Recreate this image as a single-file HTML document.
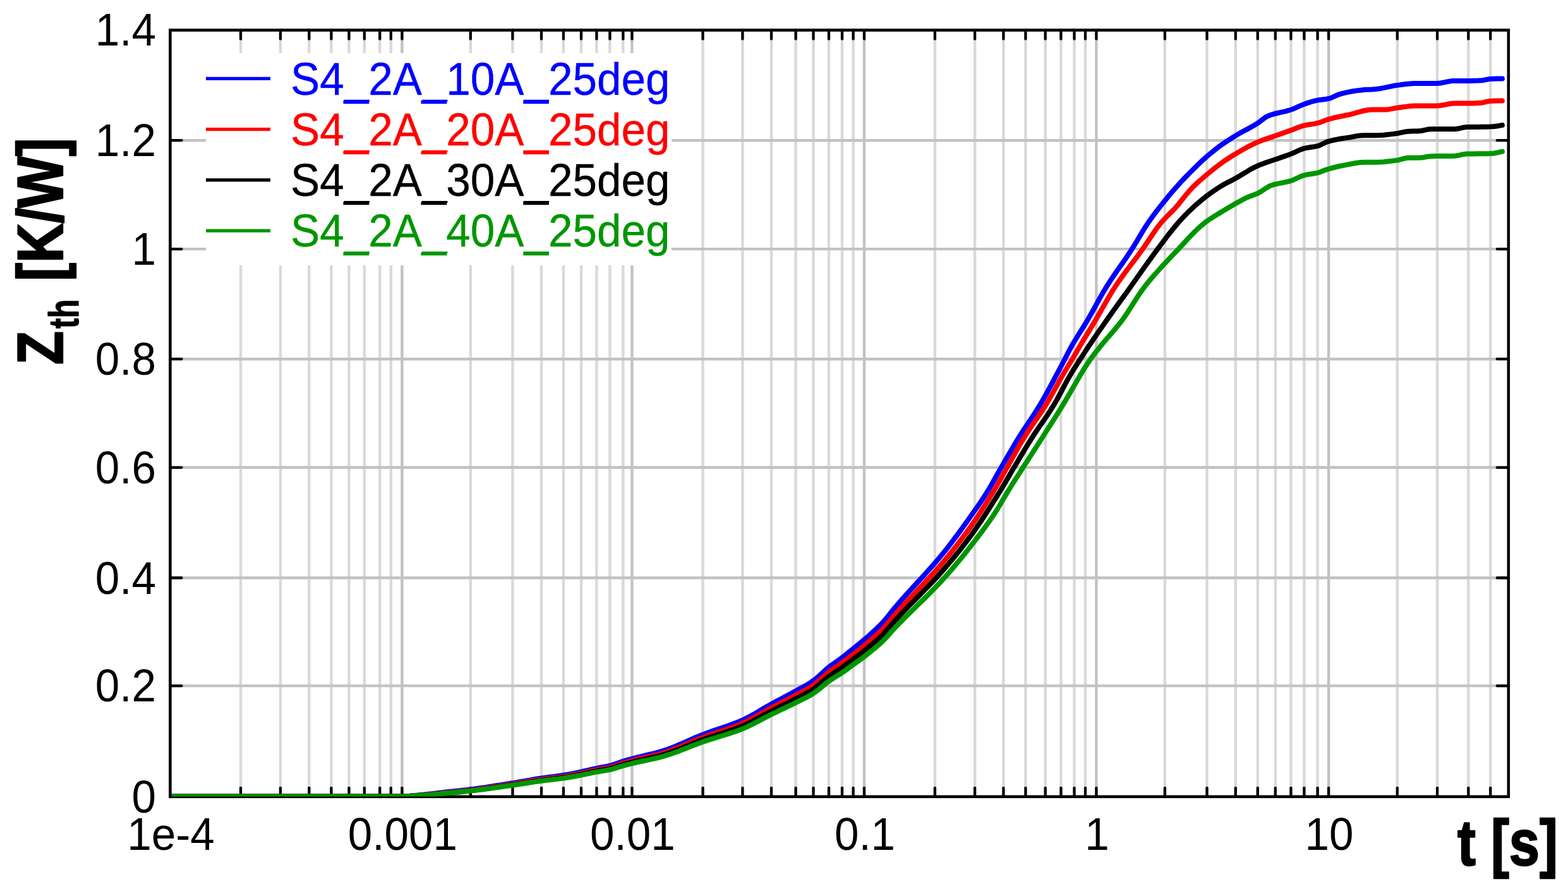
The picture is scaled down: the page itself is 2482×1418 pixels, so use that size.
<!DOCTYPE html><html><head><meta charset="utf-8"><title>Zth chart</title><style>html,body{margin:0;padding:0;background:#fff}svg{display:block}</style></head><body><svg width="2482" height="1418" viewBox="0 0 2482 1418">
<rect width="2482" height="1418" fill="#fff"/>
<g><line x1="381.0" x2="381.0" y1="47.7" y2="1260.8" stroke="#d9d9d9" stroke-width="4.4"/><line x1="443.9" x2="443.9" y1="47.7" y2="1260.8" stroke="#d9d9d9" stroke-width="4.4"/><line x1="489.3" x2="489.3" y1="47.7" y2="1260.8" stroke="#d9d9d9" stroke-width="4.4"/><line x1="524.4" x2="524.4" y1="47.7" y2="1260.8" stroke="#d9d9d9" stroke-width="4.4"/><line x1="552.4" x2="552.4" y1="47.7" y2="1260.8" stroke="#d9d9d9" stroke-width="4.4"/><line x1="576.8" x2="576.8" y1="47.7" y2="1260.8" stroke="#d9d9d9" stroke-width="4.4"/><line x1="601.2" x2="601.2" y1="47.7" y2="1260.8" stroke="#d9d9d9" stroke-width="4.4"/><line x1="618.8" x2="618.8" y1="47.7" y2="1260.8" stroke="#d9d9d9" stroke-width="4.4"/><line x1="744.8" x2="744.8" y1="47.7" y2="1260.8" stroke="#d9d9d9" stroke-width="4.4"/><line x1="811.4" x2="811.4" y1="47.7" y2="1260.8" stroke="#d9d9d9" stroke-width="4.4"/><line x1="857.0" x2="857.0" y1="47.7" y2="1260.8" stroke="#d9d9d9" stroke-width="4.4"/><line x1="891.9" x2="891.9" y1="47.7" y2="1260.8" stroke="#d9d9d9" stroke-width="4.4"/><line x1="920.0" x2="920.0" y1="47.7" y2="1260.8" stroke="#d9d9d9" stroke-width="4.4"/><line x1="944.4" x2="944.4" y1="47.7" y2="1260.8" stroke="#d9d9d9" stroke-width="4.4"/><line x1="965.4" x2="965.4" y1="47.7" y2="1260.8" stroke="#d9d9d9" stroke-width="4.4"/><line x1="986.3" x2="986.3" y1="47.7" y2="1260.8" stroke="#d9d9d9" stroke-width="4.4"/><line x1="1112.5" x2="1112.5" y1="47.7" y2="1260.8" stroke="#d9d9d9" stroke-width="4.4"/><line x1="1175.4" x2="1175.4" y1="47.7" y2="1260.8" stroke="#d9d9d9" stroke-width="4.4"/><line x1="1221.0" x2="1221.0" y1="47.7" y2="1260.8" stroke="#d9d9d9" stroke-width="4.4"/><line x1="1259.6" x2="1259.6" y1="47.7" y2="1260.8" stroke="#d9d9d9" stroke-width="4.4"/><line x1="1287.5" x2="1287.5" y1="47.7" y2="1260.8" stroke="#d9d9d9" stroke-width="4.4"/><line x1="1312.0" x2="1312.0" y1="47.7" y2="1260.8" stroke="#d9d9d9" stroke-width="4.4"/><line x1="1333.0" x2="1333.0" y1="47.7" y2="1260.8" stroke="#d9d9d9" stroke-width="4.4"/><line x1="1350.6" x2="1350.6" y1="47.7" y2="1260.8" stroke="#d9d9d9" stroke-width="4.4"/><line x1="1479.9" x2="1479.9" y1="47.7" y2="1260.8" stroke="#d9d9d9" stroke-width="4.4"/><line x1="1543.1" x2="1543.1" y1="47.7" y2="1260.8" stroke="#d9d9d9" stroke-width="4.4"/><line x1="1588.4" x2="1588.4" y1="47.7" y2="1260.8" stroke="#d9d9d9" stroke-width="4.4"/><line x1="1623.4" x2="1623.4" y1="47.7" y2="1260.8" stroke="#d9d9d9" stroke-width="4.4"/><line x1="1654.7" x2="1654.7" y1="47.7" y2="1260.8" stroke="#d9d9d9" stroke-width="4.4"/><line x1="1679.4" x2="1679.4" y1="47.7" y2="1260.8" stroke="#d9d9d9" stroke-width="4.4"/><line x1="1700.5" x2="1700.5" y1="47.7" y2="1260.8" stroke="#d9d9d9" stroke-width="4.4"/><line x1="1718.0" x2="1718.0" y1="47.7" y2="1260.8" stroke="#d9d9d9" stroke-width="4.4"/><line x1="1843.9" x2="1843.9" y1="47.7" y2="1260.8" stroke="#d9d9d9" stroke-width="4.4"/><line x1="1910.5" x2="1910.5" y1="47.7" y2="1260.8" stroke="#d9d9d9" stroke-width="4.4"/><line x1="1955.8" x2="1955.8" y1="47.7" y2="1260.8" stroke="#d9d9d9" stroke-width="4.4"/><line x1="1990.8" x2="1990.8" y1="47.7" y2="1260.8" stroke="#d9d9d9" stroke-width="4.4"/><line x1="2018.8" x2="2018.8" y1="47.7" y2="1260.8" stroke="#d9d9d9" stroke-width="4.4"/><line x1="2043.4" x2="2043.4" y1="47.7" y2="1260.8" stroke="#d9d9d9" stroke-width="4.4"/><line x1="2064.4" x2="2064.4" y1="47.7" y2="1260.8" stroke="#d9d9d9" stroke-width="4.4"/><line x1="2085.6" x2="2085.6" y1="47.7" y2="1260.8" stroke="#d9d9d9" stroke-width="4.4"/><line x1="2211.8" x2="2211.8" y1="47.7" y2="1260.8" stroke="#d9d9d9" stroke-width="4.4"/><line x1="2275.1" x2="2275.1" y1="47.7" y2="1260.8" stroke="#d9d9d9" stroke-width="4.4"/><line x1="2324.3" x2="2324.3" y1="47.7" y2="1260.8" stroke="#d9d9d9" stroke-width="4.4"/><line x1="2359.2" x2="2359.2" y1="47.7" y2="1260.8" stroke="#d9d9d9" stroke-width="4.4"/><line x1="636.4" x2="636.4" y1="47.7" y2="1260.8" stroke="#c2c2c2" stroke-width="4.4"/><line x1="1000.4" x2="1000.4" y1="47.7" y2="1260.8" stroke="#c2c2c2" stroke-width="4.4"/><line x1="1368.0" x2="1368.0" y1="47.7" y2="1260.8" stroke="#c2c2c2" stroke-width="4.4"/><line x1="1735.4" x2="1735.4" y1="47.7" y2="1260.8" stroke="#c2c2c2" stroke-width="4.4"/><line x1="2103.1" x2="2103.1" y1="47.7" y2="1260.8" stroke="#c2c2c2" stroke-width="4.4"/><line x1="269.4" x2="2387.8" y1="1085.4" y2="1085.4" stroke="#c2c2c2" stroke-width="4.4"/><line x1="269.4" x2="2387.8" y1="914.5" y2="914.5" stroke="#c2c2c2" stroke-width="4.4"/><line x1="269.4" x2="2387.8" y1="739.8" y2="739.8" stroke="#c2c2c2" stroke-width="4.4"/><line x1="269.4" x2="2387.8" y1="568.2" y2="568.2" stroke="#c2c2c2" stroke-width="4.4"/><line x1="269.4" x2="2387.8" y1="394.1" y2="394.1" stroke="#c2c2c2" stroke-width="4.4"/><line x1="269.4" x2="2387.8" y1="222.2" y2="222.2" stroke="#c2c2c2" stroke-width="4.4"/></g>
<rect x="326" y="84" width="737" height="336" fill="#fff"/>
<g stroke="#000" stroke-width="4.3" stroke-linecap="round"><line x1="381.0" x2="381.0" y1="47.7" y2="61.7" /><line x1="381.0" x2="381.0" y1="1260.8" y2="1246.8" /><line x1="443.9" x2="443.9" y1="47.7" y2="61.7" /><line x1="443.9" x2="443.9" y1="1260.8" y2="1246.8" /><line x1="489.3" x2="489.3" y1="47.7" y2="61.7" /><line x1="489.3" x2="489.3" y1="1260.8" y2="1246.8" /><line x1="524.4" x2="524.4" y1="47.7" y2="61.7" /><line x1="524.4" x2="524.4" y1="1260.8" y2="1246.8" /><line x1="552.4" x2="552.4" y1="47.7" y2="61.7" /><line x1="552.4" x2="552.4" y1="1260.8" y2="1246.8" /><line x1="576.8" x2="576.8" y1="47.7" y2="61.7" /><line x1="576.8" x2="576.8" y1="1260.8" y2="1246.8" /><line x1="601.2" x2="601.2" y1="47.7" y2="61.7" /><line x1="601.2" x2="601.2" y1="1260.8" y2="1246.8" /><line x1="618.8" x2="618.8" y1="47.7" y2="61.7" /><line x1="618.8" x2="618.8" y1="1260.8" y2="1246.8" /><line x1="636.4" x2="636.4" y1="47.7" y2="61.7" /><line x1="636.4" x2="636.4" y1="1260.8" y2="1246.8" /><line x1="744.8" x2="744.8" y1="47.7" y2="61.7" /><line x1="744.8" x2="744.8" y1="1260.8" y2="1246.8" /><line x1="811.4" x2="811.4" y1="47.7" y2="61.7" /><line x1="811.4" x2="811.4" y1="1260.8" y2="1246.8" /><line x1="857.0" x2="857.0" y1="47.7" y2="61.7" /><line x1="857.0" x2="857.0" y1="1260.8" y2="1246.8" /><line x1="891.9" x2="891.9" y1="47.7" y2="61.7" /><line x1="891.9" x2="891.9" y1="1260.8" y2="1246.8" /><line x1="920.0" x2="920.0" y1="47.7" y2="61.7" /><line x1="920.0" x2="920.0" y1="1260.8" y2="1246.8" /><line x1="944.4" x2="944.4" y1="47.7" y2="61.7" /><line x1="944.4" x2="944.4" y1="1260.8" y2="1246.8" /><line x1="965.4" x2="965.4" y1="47.7" y2="61.7" /><line x1="965.4" x2="965.4" y1="1260.8" y2="1246.8" /><line x1="986.3" x2="986.3" y1="47.7" y2="61.7" /><line x1="986.3" x2="986.3" y1="1260.8" y2="1246.8" /><line x1="1000.4" x2="1000.4" y1="47.7" y2="61.7" /><line x1="1000.4" x2="1000.4" y1="1260.8" y2="1246.8" /><line x1="1112.5" x2="1112.5" y1="47.7" y2="61.7" /><line x1="1112.5" x2="1112.5" y1="1260.8" y2="1246.8" /><line x1="1175.4" x2="1175.4" y1="47.7" y2="61.7" /><line x1="1175.4" x2="1175.4" y1="1260.8" y2="1246.8" /><line x1="1221.0" x2="1221.0" y1="47.7" y2="61.7" /><line x1="1221.0" x2="1221.0" y1="1260.8" y2="1246.8" /><line x1="1259.6" x2="1259.6" y1="47.7" y2="61.7" /><line x1="1259.6" x2="1259.6" y1="1260.8" y2="1246.8" /><line x1="1287.5" x2="1287.5" y1="47.7" y2="61.7" /><line x1="1287.5" x2="1287.5" y1="1260.8" y2="1246.8" /><line x1="1312.0" x2="1312.0" y1="47.7" y2="61.7" /><line x1="1312.0" x2="1312.0" y1="1260.8" y2="1246.8" /><line x1="1333.0" x2="1333.0" y1="47.7" y2="61.7" /><line x1="1333.0" x2="1333.0" y1="1260.8" y2="1246.8" /><line x1="1350.6" x2="1350.6" y1="47.7" y2="61.7" /><line x1="1350.6" x2="1350.6" y1="1260.8" y2="1246.8" /><line x1="1368.0" x2="1368.0" y1="47.7" y2="61.7" /><line x1="1368.0" x2="1368.0" y1="1260.8" y2="1246.8" /><line x1="1479.9" x2="1479.9" y1="47.7" y2="61.7" /><line x1="1479.9" x2="1479.9" y1="1260.8" y2="1246.8" /><line x1="1543.1" x2="1543.1" y1="47.7" y2="61.7" /><line x1="1543.1" x2="1543.1" y1="1260.8" y2="1246.8" /><line x1="1588.4" x2="1588.4" y1="47.7" y2="61.7" /><line x1="1588.4" x2="1588.4" y1="1260.8" y2="1246.8" /><line x1="1623.4" x2="1623.4" y1="47.7" y2="61.7" /><line x1="1623.4" x2="1623.4" y1="1260.8" y2="1246.8" /><line x1="1654.7" x2="1654.7" y1="47.7" y2="61.7" /><line x1="1654.7" x2="1654.7" y1="1260.8" y2="1246.8" /><line x1="1679.4" x2="1679.4" y1="47.7" y2="61.7" /><line x1="1679.4" x2="1679.4" y1="1260.8" y2="1246.8" /><line x1="1700.5" x2="1700.5" y1="47.7" y2="61.7" /><line x1="1700.5" x2="1700.5" y1="1260.8" y2="1246.8" /><line x1="1718.0" x2="1718.0" y1="47.7" y2="61.7" /><line x1="1718.0" x2="1718.0" y1="1260.8" y2="1246.8" /><line x1="1735.4" x2="1735.4" y1="47.7" y2="61.7" /><line x1="1735.4" x2="1735.4" y1="1260.8" y2="1246.8" /><line x1="1843.9" x2="1843.9" y1="47.7" y2="61.7" /><line x1="1843.9" x2="1843.9" y1="1260.8" y2="1246.8" /><line x1="1910.5" x2="1910.5" y1="47.7" y2="61.7" /><line x1="1910.5" x2="1910.5" y1="1260.8" y2="1246.8" /><line x1="1955.8" x2="1955.8" y1="47.7" y2="61.7" /><line x1="1955.8" x2="1955.8" y1="1260.8" y2="1246.8" /><line x1="1990.8" x2="1990.8" y1="47.7" y2="61.7" /><line x1="1990.8" x2="1990.8" y1="1260.8" y2="1246.8" /><line x1="2018.8" x2="2018.8" y1="47.7" y2="61.7" /><line x1="2018.8" x2="2018.8" y1="1260.8" y2="1246.8" /><line x1="2043.4" x2="2043.4" y1="47.7" y2="61.7" /><line x1="2043.4" x2="2043.4" y1="1260.8" y2="1246.8" /><line x1="2064.4" x2="2064.4" y1="47.7" y2="61.7" /><line x1="2064.4" x2="2064.4" y1="1260.8" y2="1246.8" /><line x1="2085.6" x2="2085.6" y1="47.7" y2="61.7" /><line x1="2085.6" x2="2085.6" y1="1260.8" y2="1246.8" /><line x1="2103.1" x2="2103.1" y1="47.7" y2="61.7" /><line x1="2103.1" x2="2103.1" y1="1260.8" y2="1246.8" /><line x1="2211.8" x2="2211.8" y1="47.7" y2="61.7" /><line x1="2211.8" x2="2211.8" y1="1260.8" y2="1246.8" /><line x1="2275.1" x2="2275.1" y1="47.7" y2="61.7" /><line x1="2275.1" x2="2275.1" y1="1260.8" y2="1246.8" /><line x1="2324.3" x2="2324.3" y1="47.7" y2="61.7" /><line x1="2324.3" x2="2324.3" y1="1260.8" y2="1246.8" /><line x1="2359.2" x2="2359.2" y1="47.7" y2="61.7" /><line x1="2359.2" x2="2359.2" y1="1260.8" y2="1246.8" /><line x1="269.4" x2="287.4" y1="1085.4" y2="1085.4" /><line x1="2387.8" x2="2369.8" y1="1085.4" y2="1085.4" /><line x1="269.4" x2="287.4" y1="914.5" y2="914.5" /><line x1="2387.8" x2="2369.8" y1="914.5" y2="914.5" /><line x1="269.4" x2="287.4" y1="739.8" y2="739.8" /><line x1="2387.8" x2="2369.8" y1="739.8" y2="739.8" /><line x1="269.4" x2="287.4" y1="568.2" y2="568.2" /><line x1="2387.8" x2="2369.8" y1="568.2" y2="568.2" /><line x1="269.4" x2="287.4" y1="394.1" y2="394.1" /><line x1="2387.8" x2="2369.8" y1="394.1" y2="394.1" /><line x1="269.4" x2="287.4" y1="222.2" y2="222.2" /><line x1="2387.8" x2="2369.8" y1="222.2" y2="222.2" /></g>
<rect x="269.4" y="47.7" width="2118.4" height="1213.1" fill="none" stroke="#000" stroke-width="4.6"/>
<clipPath id="pc"><rect x="271.6" y="50" width="2114" height="1210.4"/></clipPath>
<g clip-path="url(#pc)">
<polyline points="270.0,1260.4 276.0,1260.4 282.0,1260.4 288.0,1260.4 294.0,1260.4 300.0,1260.4 306.0,1260.4 312.0,1260.4 318.0,1260.4 324.0,1260.4 330.0,1260.4 336.0,1260.4 342.0,1260.4 348.0,1260.4 354.0,1260.4 360.0,1260.4 366.0,1260.4 372.0,1260.4 378.0,1260.4 384.0,1260.4 390.0,1260.4 396.0,1260.4 402.0,1260.4 408.0,1260.4 414.0,1260.4 420.0,1260.4 426.0,1260.4 432.0,1260.4 438.0,1260.4 444.0,1260.4 450.0,1260.4 456.0,1260.4 462.0,1260.4 468.0,1260.4 474.0,1260.4 480.0,1260.4 486.0,1260.4 492.0,1260.4 498.0,1260.4 504.0,1260.4 510.0,1260.4 516.0,1260.4 522.0,1260.4 528.0,1260.4 534.0,1260.4 540.0,1260.4 546.0,1260.4 552.0,1260.4 558.0,1260.4 564.0,1260.4 570.0,1260.4 576.0,1260.4 582.0,1260.4 588.0,1260.4 594.0,1260.4 600.0,1260.4 606.0,1260.4 612.0,1260.4 618.0,1260.4 624.0,1260.4 630.0,1260.4 636.0,1260.4 642.0,1260.2 648.0,1259.8 654.0,1259.2 660.0,1258.7 666.0,1258.1 672.0,1257.5 678.0,1256.8 684.0,1256.1 690.0,1255.4 696.0,1254.7 702.0,1254.0 708.0,1253.3 714.0,1252.7 720.0,1252.1 726.0,1251.4 732.0,1250.8 738.0,1250.1 744.0,1249.4 750.0,1248.6 756.0,1247.8 762.0,1247.0 768.0,1246.1 774.0,1245.2 780.0,1244.3 786.0,1243.3 792.0,1242.4 798.0,1241.4 804.0,1240.5 810.0,1239.5 816.0,1238.6 822.0,1237.5 828.0,1236.5 834.0,1235.4 840.0,1234.4 846.0,1233.3 852.0,1232.3 858.0,1231.4 864.0,1230.6 870.0,1229.8 876.0,1229.1 882.0,1228.3 888.0,1227.5 894.0,1226.5 900.0,1225.5 906.0,1224.3 912.0,1223.1 918.0,1221.8 924.0,1220.5 930.0,1219.1 936.0,1217.7 942.0,1216.3 948.0,1215.1 954.0,1214.0 960.0,1212.9 966.0,1211.6 972.0,1209.8 978.0,1207.7 984.0,1205.5 990.0,1203.7 996.0,1202.0 1002.0,1200.3 1008.0,1198.8 1014.0,1197.3 1020.0,1195.9 1026.0,1194.5 1032.0,1193.1 1038.0,1191.5 1044.0,1189.9 1050.0,1188.1 1056.0,1186.1 1062.0,1183.9 1068.0,1181.6 1074.0,1179.0 1080.0,1176.4 1086.0,1173.8 1092.0,1171.1 1098.0,1168.5 1104.0,1165.9 1110.0,1163.5 1116.0,1161.2 1122.0,1159.0 1128.0,1156.9 1134.0,1154.9 1140.0,1152.8 1146.0,1150.8 1152.0,1148.7 1158.0,1146.6 1164.0,1144.3 1170.0,1141.9 1176.0,1139.3 1182.0,1136.4 1188.0,1133.3 1194.0,1129.9 1200.0,1126.4 1206.0,1122.8 1212.0,1119.3 1218.0,1115.9 1224.0,1112.6 1230.0,1109.4 1236.0,1106.2 1242.0,1103.0 1248.0,1099.8 1254.0,1096.6 1260.0,1093.3 1266.0,1090.0 1272.0,1086.8 1278.0,1083.4 1284.0,1079.6 1290.0,1075.4 1296.0,1070.3 1302.0,1064.6 1308.0,1059.1 1314.0,1054.2 1320.0,1049.9 1326.0,1045.7 1332.0,1041.5 1338.0,1036.8 1344.0,1031.9 1350.0,1027.0 1356.0,1022.2 1362.0,1017.4 1368.0,1012.4 1374.0,1007.2 1380.0,1001.8 1386.0,996.3 1392.0,990.5 1398.0,984.3 1404.0,977.4 1410.0,969.7 1416.0,962.3 1422.0,955.3 1428.0,948.4 1434.0,941.7 1440.0,935.1 1446.0,928.5 1452.0,922.0 1458.0,915.5 1464.0,908.9 1470.0,902.2 1476.0,895.5 1482.0,888.6 1488.0,881.5 1494.0,874.2 1500.0,866.7 1506.0,858.9 1512.0,851.0 1518.0,842.9 1524.0,834.6 1530.0,826.3 1536.0,817.8 1542.0,809.3 1548.0,800.7 1554.0,791.9 1560.0,782.8 1566.0,773.1 1572.0,762.6 1578.0,751.8 1584.0,741.1 1590.0,730.7 1596.0,720.4 1602.0,710.2 1608.0,700.1 1614.0,690.4 1620.0,681.0 1626.0,672.0 1632.0,663.1 1638.0,654.0 1644.0,644.5 1650.0,634.3 1656.0,623.7 1662.0,612.7 1668.0,601.5 1674.0,590.2 1680.0,578.9 1686.0,567.3 1692.0,555.6 1698.0,544.7 1704.0,534.8 1710.0,525.2 1716.0,515.7 1722.0,505.8 1728.0,495.3 1734.0,484.4 1740.0,473.5 1746.0,462.9 1752.0,453.0 1758.0,443.7 1764.0,434.8 1770.0,426.1 1776.0,417.6 1782.0,408.9 1788.0,400.0 1794.0,390.7 1800.0,380.8 1806.0,370.6 1812.0,360.7 1818.0,351.6 1824.0,343.2 1830.0,335.2 1836.0,327.4 1842.0,319.9 1848.0,312.4 1854.0,305.2 1860.0,298.3 1866.0,291.6 1872.0,285.1 1878.0,278.9 1884.0,272.8 1890.0,266.8 1896.0,260.9 1902.0,255.2 1908.0,249.7 1914.0,244.5 1920.0,239.6 1926.0,234.8 1932.0,230.3 1938.0,226.1 1944.0,222.1 1950.0,218.3 1956.0,214.6 1962.0,211.1 1968.0,207.8 1974.0,204.6 1980.0,201.3 1986.0,197.9 1992.0,194.1 1998.0,189.5 2004.0,185.1 2010.0,182.4 2016.0,180.5 2022.0,179.0 2028.0,177.7 2034.0,176.3 2040.0,174.7 2046.0,172.8 2052.0,170.2 2058.0,167.4 2064.0,165.0 2070.0,162.9 2076.0,161.0 2082.0,159.4 2088.0,158.2 2094.0,157.5 2100.0,156.7 2106.0,155.3 2112.0,152.7 2118.0,149.9 2124.0,148.1 2130.0,146.7 2136.0,145.4 2142.0,144.3 2148.0,143.4 2154.0,142.7 2160.0,142.1 2166.0,141.8 2172.0,141.5 2178.0,141.0 2184.0,140.2 2190.0,139.1 2196.0,137.8 2202.0,136.6 2208.0,135.4 2214.0,134.6 2220.0,133.8 2226.0,133.0 2232.0,132.4 2238.0,132.0 2244.0,131.9 2250.0,131.9 2256.0,131.9 2262.0,131.9 2268.0,131.9 2274.0,131.9 2280.0,131.5 2286.0,130.4 2292.0,129.1 2298.0,128.1 2304.0,127.9 2310.0,127.9 2316.0,127.9 2322.0,127.9 2328.0,127.9 2334.0,127.8 2340.0,127.6 2346.0,127.2 2352.0,126.1 2358.0,125.0 2364.0,124.7 2370.0,124.5 2376.0,124.4 2377.9,124.4" fill="none" stroke="#0000ff" stroke-width="8" stroke-linejoin="round" stroke-linecap="round"/>
<polyline points="270.0,1260.4 276.0,1260.4 282.0,1260.4 288.0,1260.4 294.0,1260.4 300.0,1260.4 306.0,1260.4 312.0,1260.4 318.0,1260.4 324.0,1260.4 330.0,1260.4 336.0,1260.4 342.0,1260.4 348.0,1260.4 354.0,1260.4 360.0,1260.4 366.0,1260.4 372.0,1260.4 378.0,1260.4 384.0,1260.4 390.0,1260.4 396.0,1260.4 402.0,1260.4 408.0,1260.4 414.0,1260.4 420.0,1260.4 426.0,1260.4 432.0,1260.4 438.0,1260.4 444.0,1260.4 450.0,1260.4 456.0,1260.4 462.0,1260.4 468.0,1260.4 474.0,1260.4 480.0,1260.4 486.0,1260.4 492.0,1260.4 498.0,1260.4 504.0,1260.4 510.0,1260.4 516.0,1260.4 522.0,1260.4 528.0,1260.4 534.0,1260.4 540.0,1260.4 546.0,1260.4 552.0,1260.4 558.0,1260.4 564.0,1260.4 570.0,1260.4 576.0,1260.4 582.0,1260.4 588.0,1260.4 594.0,1260.4 600.0,1260.4 606.0,1260.4 612.0,1260.4 618.0,1260.4 624.0,1260.4 630.0,1260.4 636.0,1260.4 642.0,1260.3 648.0,1259.9 654.0,1259.5 660.0,1259.1 666.0,1258.6 672.0,1258.1 678.0,1257.5 684.0,1256.9 690.0,1256.3 696.0,1255.7 702.0,1255.1 708.0,1254.5 714.0,1253.9 720.0,1253.3 726.0,1252.7 732.0,1252.0 738.0,1251.4 744.0,1250.7 750.0,1249.9 756.0,1249.1 762.0,1248.3 768.0,1247.5 774.0,1246.6 780.0,1245.7 786.0,1244.8 792.0,1243.9 798.0,1243.0 804.0,1242.1 810.0,1241.2 816.0,1240.2 822.0,1239.2 828.0,1238.2 834.0,1237.2 840.0,1236.2 846.0,1235.2 852.0,1234.3 858.0,1233.4 864.0,1232.6 870.0,1231.8 876.0,1231.1 882.0,1230.4 888.0,1229.6 894.0,1228.6 900.0,1227.6 906.0,1226.5 912.0,1225.3 918.0,1224.1 924.0,1222.8 930.0,1221.5 936.0,1220.1 942.0,1218.8 948.0,1217.6 954.0,1216.6 960.0,1215.5 966.0,1214.3 972.0,1212.5 978.0,1210.5 984.0,1208.4 990.0,1206.7 996.0,1205.0 1002.0,1203.4 1008.0,1201.9 1014.0,1200.5 1020.0,1199.2 1026.0,1197.8 1032.0,1196.4 1038.0,1194.9 1044.0,1193.4 1050.0,1191.6 1056.0,1189.7 1062.0,1187.6 1068.0,1185.3 1074.0,1182.9 1080.0,1180.4 1086.0,1177.8 1092.0,1175.3 1098.0,1172.7 1104.0,1170.3 1110.0,1167.9 1116.0,1165.7 1122.0,1163.5 1128.0,1161.5 1134.0,1159.5 1140.0,1157.6 1146.0,1155.6 1152.0,1153.6 1158.0,1151.5 1164.0,1149.3 1170.0,1146.9 1176.0,1144.4 1182.0,1141.6 1188.0,1138.6 1194.0,1135.3 1200.0,1131.9 1206.0,1128.5 1212.0,1125.1 1218.0,1121.8 1224.0,1118.6 1230.0,1115.5 1236.0,1112.4 1242.0,1109.3 1248.0,1106.2 1254.0,1103.1 1260.0,1099.9 1266.0,1096.7 1272.0,1093.6 1278.0,1090.3 1284.0,1086.7 1290.0,1082.6 1296.0,1077.6 1302.0,1072.2 1308.0,1066.9 1314.0,1062.1 1320.0,1057.9 1326.0,1053.9 1332.0,1049.8 1338.0,1045.3 1344.0,1040.6 1350.0,1035.9 1356.0,1031.2 1362.0,1026.6 1368.0,1021.7 1374.0,1016.7 1380.0,1011.5 1386.0,1006.2 1392.0,1000.6 1398.0,994.6 1404.0,987.9 1410.0,980.5 1416.0,973.4 1422.0,966.6 1428.0,960.0 1434.0,953.5 1440.0,947.1 1446.0,940.7 1452.0,934.4 1458.0,928.1 1464.0,921.8 1470.0,915.3 1476.0,908.8 1482.0,902.2 1488.0,895.3 1494.0,888.3 1500.0,881.0 1506.0,873.7 1512.0,866.1 1518.0,858.4 1524.0,850.5 1530.0,842.4 1536.0,834.1 1542.0,825.5 1548.0,816.7 1554.0,807.5 1560.0,798.1 1566.0,788.4 1572.0,778.6 1578.0,768.4 1584.0,757.8 1590.0,747.1 1596.0,736.5 1602.0,725.8 1608.0,715.0 1614.0,704.4 1620.0,694.3 1626.0,684.7 1632.0,675.8 1638.0,667.1 1644.0,658.5 1650.0,649.5 1656.0,640.0 1662.0,629.8 1668.0,619.1 1674.0,608.1 1680.0,597.4 1686.0,587.1 1692.0,577.2 1698.0,567.3 1704.0,556.9 1710.0,546.6 1716.0,536.6 1722.0,526.8 1728.0,516.9 1734.0,506.9 1740.0,496.6 1746.0,486.0 1752.0,475.5 1758.0,465.2 1764.0,455.6 1770.0,446.6 1776.0,438.1 1782.0,429.9 1788.0,421.9 1794.0,414.0 1800.0,406.1 1806.0,397.9 1812.0,389.5 1818.0,380.5 1824.0,371.5 1830.0,362.7 1836.0,354.8 1842.0,347.9 1848.0,341.6 1854.0,335.7 1860.0,329.5 1866.0,322.6 1872.0,315.1 1878.0,307.6 1884.0,300.5 1890.0,294.3 1896.0,288.6 1902.0,283.4 1908.0,278.3 1914.0,273.3 1920.0,268.4 1926.0,263.6 1932.0,259.1 1938.0,254.8 1944.0,250.8 1950.0,247.0 1956.0,243.4 1962.0,239.9 1968.0,236.4 1974.0,233.1 1980.0,229.9 1986.0,227.0 1992.0,224.4 1998.0,222.0 2004.0,219.9 2010.0,217.9 2016.0,215.8 2022.0,213.7 2028.0,211.6 2034.0,209.5 2040.0,207.4 2046.0,205.2 2052.0,202.8 2058.0,200.5 2064.0,198.7 2070.0,197.5 2076.0,196.6 2082.0,195.6 2088.0,194.2 2094.0,192.0 2100.0,189.6 2106.0,187.8 2112.0,186.3 2118.0,185.0 2124.0,183.8 2130.0,182.5 2136.0,181.3 2142.0,179.8 2148.0,178.2 2154.0,176.5 2160.0,175.0 2166.0,174.0 2172.0,173.6 2178.0,173.6 2184.0,173.6 2190.0,173.6 2196.0,173.4 2202.0,172.4 2208.0,171.2 2214.0,170.3 2220.0,169.5 2226.0,168.6 2232.0,167.9 2238.0,167.5 2244.0,167.4 2250.0,167.4 2256.0,167.4 2262.0,167.4 2268.0,167.4 2274.0,167.4 2280.0,167.0 2286.0,166.0 2292.0,164.7 2298.0,163.8 2304.0,163.6 2310.0,163.6 2316.0,163.6 2322.0,163.6 2328.0,163.6 2334.0,163.4 2340.0,163.1 2346.0,162.7 2352.0,161.2 2358.0,160.0 2364.0,159.7 2370.0,159.5 2376.0,159.4 2377.9,159.4" fill="none" stroke="#ff0000" stroke-width="8" stroke-linejoin="round" stroke-linecap="round"/>
<polyline points="270.0,1260.4 276.0,1260.4 282.0,1260.4 288.0,1260.4 294.0,1260.4 300.0,1260.4 306.0,1260.4 312.0,1260.4 318.0,1260.4 324.0,1260.4 330.0,1260.4 336.0,1260.4 342.0,1260.4 348.0,1260.4 354.0,1260.4 360.0,1260.4 366.0,1260.4 372.0,1260.4 378.0,1260.4 384.0,1260.4 390.0,1260.4 396.0,1260.4 402.0,1260.4 408.0,1260.4 414.0,1260.4 420.0,1260.4 426.0,1260.4 432.0,1260.4 438.0,1260.4 444.0,1260.4 450.0,1260.4 456.0,1260.4 462.0,1260.4 468.0,1260.4 474.0,1260.4 480.0,1260.4 486.0,1260.4 492.0,1260.4 498.0,1260.4 504.0,1260.4 510.0,1260.4 516.0,1260.4 522.0,1260.4 528.0,1260.4 534.0,1260.4 540.0,1260.4 546.0,1260.4 552.0,1260.4 558.0,1260.4 564.0,1260.4 570.0,1260.4 576.0,1260.4 582.0,1260.4 588.0,1260.4 594.0,1260.4 600.0,1260.4 606.0,1260.4 612.0,1260.4 618.0,1260.4 624.0,1260.4 630.0,1260.4 636.0,1260.4 642.0,1260.3 648.0,1260.0 654.0,1259.6 660.0,1259.2 666.0,1258.8 672.0,1258.4 678.0,1257.9 684.0,1257.4 690.0,1256.8 696.0,1256.3 702.0,1255.7 708.0,1255.2 714.0,1254.6 720.0,1254.0 726.0,1253.4 732.0,1252.7 738.0,1252.1 744.0,1251.4 750.0,1250.7 756.0,1249.9 762.0,1249.2 768.0,1248.3 774.0,1247.5 780.0,1246.7 786.0,1245.8 792.0,1244.9 798.0,1244.0 804.0,1243.1 810.0,1242.2 816.0,1241.3 822.0,1240.4 828.0,1239.4 834.0,1238.4 840.0,1237.4 846.0,1236.5 852.0,1235.6 858.0,1234.7 864.0,1233.9 870.0,1233.2 876.0,1232.5 882.0,1231.8 888.0,1231.0 894.0,1230.1 900.0,1229.2 906.0,1228.1 912.0,1226.9 918.0,1225.8 924.0,1224.5 930.0,1223.2 936.0,1221.9 942.0,1220.6 948.0,1219.5 954.0,1218.5 960.0,1217.5 966.0,1216.3 972.0,1214.6 978.0,1212.6 984.0,1210.6 990.0,1208.9 996.0,1207.3 1002.0,1205.8 1008.0,1204.4 1014.0,1203.0 1020.0,1201.7 1026.0,1200.4 1032.0,1199.0 1038.0,1197.6 1044.0,1196.1 1050.0,1194.4 1056.0,1192.6 1062.0,1190.5 1068.0,1188.3 1074.0,1186.0 1080.0,1183.6 1086.0,1181.1 1092.0,1178.6 1098.0,1176.2 1104.0,1173.8 1110.0,1171.5 1116.0,1169.3 1122.0,1167.3 1128.0,1165.3 1134.0,1163.4 1140.0,1161.5 1146.0,1159.6 1152.0,1157.6 1158.0,1155.6 1164.0,1153.4 1170.0,1151.2 1176.0,1148.7 1182.0,1146.0 1188.0,1143.1 1194.0,1139.9 1200.0,1136.6 1206.0,1133.3 1212.0,1130.0 1218.0,1126.8 1224.0,1123.7 1230.0,1120.7 1236.0,1117.7 1242.0,1114.8 1248.0,1111.8 1254.0,1108.7 1260.0,1105.6 1266.0,1102.6 1272.0,1099.5 1278.0,1096.3 1284.0,1092.9 1290.0,1088.9 1296.0,1084.1 1302.0,1078.8 1308.0,1073.7 1314.0,1069.1 1320.0,1065.0 1326.0,1061.2 1332.0,1057.2 1338.0,1052.8 1344.0,1048.3 1350.0,1043.7 1356.0,1039.2 1362.0,1034.7 1368.0,1030.0 1374.0,1025.1 1380.0,1020.1 1386.0,1015.0 1392.0,1009.6 1398.0,1003.8 1404.0,997.3 1410.0,990.1 1416.0,983.2 1422.0,976.7 1428.0,970.3 1434.0,964.0 1440.0,957.8 1446.0,951.7 1452.0,945.6 1458.0,939.5 1464.0,933.3 1470.0,927.1 1476.0,920.8 1482.0,914.4 1488.0,907.8 1494.0,901.0 1500.0,894.0 1506.0,886.9 1512.0,879.6 1518.0,872.2 1524.0,864.5 1530.0,856.7 1536.0,848.7 1542.0,840.4 1548.0,831.8 1554.0,822.9 1560.0,813.7 1566.0,804.4 1572.0,794.9 1578.0,785.3 1584.0,775.6 1590.0,765.6 1596.0,755.4 1602.0,745.1 1608.0,735.0 1614.0,724.9 1620.0,714.9 1626.0,705.0 1632.0,695.3 1638.0,686.0 1644.0,677.1 1650.0,668.4 1656.0,659.7 1662.0,650.7 1668.0,641.2 1674.0,630.7 1680.0,619.5 1686.0,608.2 1692.0,597.2 1698.0,587.0 1704.0,577.6 1710.0,568.5 1716.0,559.2 1722.0,550.0 1728.0,541.1 1734.0,532.3 1740.0,523.6 1746.0,514.9 1752.0,506.4 1758.0,497.9 1764.0,489.5 1770.0,481.2 1776.0,472.9 1782.0,464.6 1788.0,456.2 1794.0,447.8 1800.0,439.3 1806.0,430.8 1812.0,422.3 1818.0,413.9 1824.0,405.6 1830.0,397.4 1836.0,389.4 1842.0,381.3 1848.0,373.4 1854.0,365.7 1860.0,358.4 1866.0,351.4 1872.0,344.8 1878.0,338.5 1884.0,332.6 1890.0,327.0 1896.0,321.7 1902.0,316.6 1908.0,311.8 1914.0,307.3 1920.0,303.0 1926.0,298.9 1932.0,295.0 1938.0,291.5 1944.0,288.3 1950.0,285.3 1956.0,282.1 1962.0,278.7 1968.0,275.0 1974.0,271.4 1980.0,267.8 1986.0,264.6 1992.0,261.8 1998.0,259.5 2004.0,257.3 2010.0,255.3 2016.0,253.3 2022.0,251.2 2028.0,249.1 2034.0,247.1 2040.0,244.9 2046.0,242.6 2052.0,239.8 2058.0,237.0 2064.0,234.9 2070.0,233.7 2076.0,232.8 2082.0,231.9 2088.0,230.3 2094.0,227.5 2100.0,224.6 2106.0,222.8 2112.0,221.5 2118.0,220.3 2124.0,219.3 2130.0,218.4 2136.0,217.5 2142.0,216.4 2148.0,215.2 2154.0,214.4 2160.0,214.3 2166.0,214.3 2172.0,214.3 2178.0,214.3 2184.0,214.1 2190.0,213.7 2196.0,213.1 2202.0,212.4 2208.0,211.6 2214.0,210.7 2220.0,209.4 2226.0,208.2 2232.0,207.7 2238.0,207.6 2244.0,207.5 2250.0,207.0 2256.0,205.6 2262.0,204.5 2268.0,204.3 2274.0,204.3 2280.0,204.3 2286.0,204.3 2292.0,204.3 2298.0,204.3 2304.0,204.2 2310.0,203.2 2316.0,201.8 2322.0,201.1 2328.0,201.0 2334.0,200.9 2340.0,200.9 2346.0,200.8 2352.0,200.7 2358.0,200.6 2364.0,200.3 2370.0,199.5 2376.0,198.4 2377.9,198.1" fill="none" stroke="#000000" stroke-width="8" stroke-linejoin="round" stroke-linecap="round"/>
<polyline points="270.0,1260.4 276.0,1260.4 282.0,1260.4 288.0,1260.4 294.0,1260.4 300.0,1260.4 306.0,1260.4 312.0,1260.4 318.0,1260.4 324.0,1260.4 330.0,1260.4 336.0,1260.4 342.0,1260.4 348.0,1260.4 354.0,1260.4 360.0,1260.4 366.0,1260.4 372.0,1260.4 378.0,1260.4 384.0,1260.4 390.0,1260.4 396.0,1260.4 402.0,1260.4 408.0,1260.4 414.0,1260.4 420.0,1260.4 426.0,1260.4 432.0,1260.4 438.0,1260.4 444.0,1260.4 450.0,1260.4 456.0,1260.4 462.0,1260.4 468.0,1260.4 474.0,1260.4 480.0,1260.4 486.0,1260.4 492.0,1260.4 498.0,1260.4 504.0,1260.4 510.0,1260.4 516.0,1260.4 522.0,1260.4 528.0,1260.4 534.0,1260.4 540.0,1260.4 546.0,1260.4 552.0,1260.4 558.0,1260.4 564.0,1260.4 570.0,1260.4 576.0,1260.4 582.0,1260.4 588.0,1260.4 594.0,1260.4 600.0,1260.4 606.0,1260.4 612.0,1260.4 618.0,1260.4 624.0,1260.4 630.0,1260.4 636.0,1260.4 642.0,1260.3 648.0,1260.0 654.0,1259.6 660.0,1259.2 666.0,1258.8 672.0,1258.4 678.0,1257.9 684.0,1257.4 690.0,1256.9 696.0,1256.4 702.0,1255.8 708.0,1255.3 714.0,1254.7 720.0,1254.2 726.0,1253.6 732.0,1253.0 738.0,1252.3 744.0,1251.7 750.0,1251.0 756.0,1250.3 762.0,1249.5 768.0,1248.8 774.0,1248.0 780.0,1247.1 786.0,1246.3 792.0,1245.5 798.0,1244.6 804.0,1243.8 810.0,1242.9 816.0,1242.0 822.0,1241.1 828.0,1240.2 834.0,1239.2 840.0,1238.3 846.0,1237.4 852.0,1236.5 858.0,1235.7 864.0,1234.9 870.0,1234.2 876.0,1233.6 882.0,1232.9 888.0,1232.1 894.0,1231.3 900.0,1230.3 906.0,1229.3 912.0,1228.2 918.0,1227.1 924.0,1225.9 930.0,1224.7 936.0,1223.4 942.0,1222.2 948.0,1221.1 954.0,1220.1 960.0,1219.1 966.0,1218.0 972.0,1216.4 978.0,1214.4 984.0,1212.6 990.0,1210.9 996.0,1209.4 1002.0,1207.9 1008.0,1206.5 1014.0,1205.2 1020.0,1204.0 1026.0,1202.7 1032.0,1201.4 1038.0,1200.0 1044.0,1198.6 1050.0,1197.0 1056.0,1195.2 1062.0,1193.3 1068.0,1191.1 1074.0,1188.9 1080.0,1186.6 1086.0,1184.2 1092.0,1181.8 1098.0,1179.5 1104.0,1177.2 1110.0,1175.0 1116.0,1172.9 1122.0,1170.9 1128.0,1169.1 1134.0,1167.2 1140.0,1165.4 1146.0,1163.5 1152.0,1161.7 1158.0,1159.7 1164.0,1157.7 1170.0,1155.5 1176.0,1153.2 1182.0,1150.6 1188.0,1147.7 1194.0,1144.7 1200.0,1141.6 1206.0,1138.4 1212.0,1135.2 1218.0,1132.1 1224.0,1129.1 1230.0,1126.3 1236.0,1123.4 1242.0,1120.6 1248.0,1117.7 1254.0,1114.8 1260.0,1111.8 1266.0,1108.9 1272.0,1105.9 1278.0,1102.9 1284.0,1099.5 1290.0,1095.7 1296.0,1091.1 1302.0,1086.1 1308.0,1081.1 1314.0,1076.7 1320.0,1072.8 1326.0,1069.1 1332.0,1065.3 1338.0,1061.1 1344.0,1056.7 1350.0,1052.3 1356.0,1048.0 1362.0,1043.7 1368.0,1039.2 1374.0,1034.5 1380.0,1029.7 1386.0,1024.8 1392.0,1019.6 1398.0,1014.0 1404.0,1007.9 1410.0,1000.9 1416.0,994.3 1422.0,988.0 1428.0,981.9 1434.0,975.9 1440.0,969.9 1446.0,964.1 1452.0,958.2 1458.0,952.3 1464.0,946.5 1470.0,940.5 1476.0,934.4 1482.0,928.3 1488.0,921.9 1494.0,915.4 1500.0,908.7 1506.0,901.8 1512.0,894.7 1518.0,887.5 1524.0,880.2 1530.0,872.7 1536.0,865.1 1542.0,857.4 1548.0,849.5 1554.0,841.6 1560.0,833.4 1566.0,825.0 1572.0,816.2 1578.0,807.0 1584.0,797.0 1590.0,786.7 1596.0,776.6 1602.0,767.0 1608.0,757.6 1614.0,748.3 1620.0,738.9 1626.0,729.6 1632.0,720.3 1638.0,711.0 1644.0,701.7 1650.0,692.3 1656.0,682.9 1662.0,673.5 1668.0,664.1 1674.0,654.6 1680.0,644.9 1686.0,635.0 1692.0,624.7 1698.0,614.3 1704.0,603.9 1710.0,593.8 1716.0,583.9 1722.0,574.4 1728.0,565.7 1734.0,557.9 1740.0,550.5 1746.0,543.1 1752.0,536.0 1758.0,529.1 1764.0,522.1 1770.0,514.8 1776.0,507.2 1782.0,498.8 1788.0,489.6 1794.0,480.1 1800.0,470.7 1806.0,461.7 1812.0,453.6 1818.0,446.1 1824.0,438.9 1830.0,432.0 1836.0,425.3 1842.0,418.8 1848.0,412.4 1854.0,406.1 1860.0,399.8 1866.0,393.5 1872.0,387.0 1878.0,380.5 1884.0,374.1 1890.0,367.9 1896.0,362.0 1902.0,356.6 1908.0,351.8 1914.0,347.5 1920.0,343.6 1926.0,339.9 1932.0,336.3 1938.0,332.6 1944.0,329.0 1950.0,325.5 1956.0,322.1 1962.0,318.7 1968.0,315.4 1974.0,312.5 1980.0,310.1 1986.0,308.0 1992.0,305.5 1998.0,301.8 2004.0,297.7 2010.0,294.3 2016.0,292.2 2022.0,290.8 2028.0,289.6 2034.0,288.4 2040.0,287.1 2046.0,285.2 2052.0,282.5 2058.0,279.6 2064.0,277.4 2070.0,276.1 2076.0,275.2 2082.0,274.3 2088.0,272.9 2094.0,270.6 2100.0,268.3 2106.0,266.5 2112.0,265.0 2118.0,263.5 2124.0,262.2 2130.0,261.1 2136.0,259.9 2142.0,258.8 2148.0,257.7 2154.0,256.9 2160.0,256.8 2166.0,256.8 2172.0,256.8 2178.0,256.8 2184.0,256.6 2190.0,256.2 2196.0,255.6 2202.0,254.9 2208.0,254.1 2214.0,253.2 2220.0,251.5 2226.0,250.1 2232.0,249.8 2238.0,249.8 2244.0,249.8 2250.0,249.6 2256.0,248.5 2262.0,247.5 2268.0,247.2 2274.0,247.1 2280.0,247.1 2286.0,247.0 2292.0,247.0 2298.0,246.9 2304.0,246.7 2310.0,245.6 2316.0,244.2 2322.0,243.6 2328.0,243.4 2334.0,243.4 2340.0,243.3 2346.0,243.3 2352.0,243.2 2358.0,243.1 2364.0,242.7 2370.0,241.6 2376.0,240.2 2377.9,239.8" fill="none" stroke="#009600" stroke-width="8" stroke-linejoin="round" stroke-linecap="round"/>
</g>
<g font-family="'Liberation Sans', sans-serif"><text transform="translate(247.0,1285.5) scale(0.955,1)" font-size="72.5" text-anchor="end" fill="#000" font-weight="normal" >0</text><text transform="translate(247.0,1110.4) scale(0.955,1)" font-size="72.5" text-anchor="end" fill="#000" font-weight="normal" >0.2</text><text transform="translate(247.0,939.5) scale(0.955,1)" font-size="72.5" text-anchor="end" fill="#000" font-weight="normal" >0.4</text><text transform="translate(247.0,764.8) scale(0.955,1)" font-size="72.5" text-anchor="end" fill="#000" font-weight="normal" >0.6</text><text transform="translate(247.0,593.2) scale(0.955,1)" font-size="72.5" text-anchor="end" fill="#000" font-weight="normal" >0.8</text><text transform="translate(247.0,419.1) scale(0.955,1)" font-size="72.5" text-anchor="end" fill="#000" font-weight="normal" >1</text><text transform="translate(247.0,247.2) scale(0.955,1)" font-size="72.5" text-anchor="end" fill="#000" font-weight="normal" >1.2</text><text transform="translate(247.0,72.4) scale(0.955,1)" font-size="72.5" text-anchor="end" fill="#000" font-weight="normal" >1.4</text><text transform="translate(270.5,1345.0) scale(0.955,1)" font-size="72.5" text-anchor="middle" fill="#000" font-weight="normal" >1e-4</text><text transform="translate(637.4,1345.0) scale(0.955,1)" font-size="72.5" text-anchor="middle" fill="#000" font-weight="normal" >0.001</text><text transform="translate(1001.4,1345.0) scale(0.955,1)" font-size="72.5" text-anchor="middle" fill="#000" font-weight="normal" >0.01</text><text transform="translate(1369.0,1345.0) scale(0.955,1)" font-size="72.5" text-anchor="middle" fill="#000" font-weight="normal" >0.1</text><text transform="translate(1736.4,1345.0) scale(0.955,1)" font-size="72.5" text-anchor="middle" fill="#000" font-weight="normal" >1</text><text transform="translate(2104.0,1345.0) scale(0.955,1)" font-size="72.5" text-anchor="middle" fill="#000" font-weight="normal" >10</text></g>
<g font-family="'Liberation Sans', sans-serif"><line x1="326" x2="428" y1="124.3" y2="124.3" stroke="#0000ff" stroke-width="5.2"/><text transform="translate(460.0,150.0) scale(0.955,1)" font-size="72.5" text-anchor="start" fill="#0000ff" font-weight="normal" stroke="#0000ff" stroke-width="0.4">S4_2A_10A_25deg</text><rect x="544.3" y="157.8" width="40.6" height="3" fill="#0000ff"/><rect x="667.8" y="157.8" width="40.6" height="3" fill="#0000ff"/><rect x="828.5" y="157.8" width="40.6" height="3" fill="#0000ff"/><line x1="326" x2="428" y1="204.6" y2="204.6" stroke="#ff0000" stroke-width="5.2"/><text transform="translate(460.0,230.1) scale(0.955,1)" font-size="72.5" text-anchor="start" fill="#ff0000" font-weight="normal" stroke="#ff0000" stroke-width="0.4">S4_2A_20A_25deg</text><rect x="544.3" y="237.9" width="40.6" height="3" fill="#ff0000"/><rect x="667.8" y="237.9" width="40.6" height="3" fill="#ff0000"/><rect x="828.5" y="237.9" width="40.6" height="3" fill="#ff0000"/><line x1="326" x2="428" y1="284.9" y2="284.9" stroke="#000000" stroke-width="5.2"/><text transform="translate(460.0,310.2) scale(0.955,1)" font-size="72.5" text-anchor="start" fill="#000000" font-weight="normal" stroke="#000000" stroke-width="0.4">S4_2A_30A_25deg</text><rect x="544.3" y="318.0" width="40.6" height="3" fill="#000000"/><rect x="667.8" y="318.0" width="40.6" height="3" fill="#000000"/><rect x="828.5" y="318.0" width="40.6" height="3" fill="#000000"/><line x1="326" x2="428" y1="365.2" y2="365.2" stroke="#009600" stroke-width="5.2"/><text transform="translate(460.0,390.3) scale(0.955,1)" font-size="72.5" text-anchor="start" fill="#009600" font-weight="normal" stroke="#009600" stroke-width="0.4">S4_2A_40A_25deg</text><rect x="544.3" y="398.1" width="40.6" height="3" fill="#009600"/><rect x="667.8" y="398.1" width="40.6" height="3" fill="#009600"/><rect x="828.5" y="398.1" width="40.6" height="3" fill="#009600"/></g>
<g font-family="'Liberation Sans', sans-serif" font-weight="bold" font-size="102" stroke="#000" stroke-width="2.4" stroke-linejoin="round"><text transform="translate(2307,1369.3) scale(0.85,1)">t [s]</text><text transform="translate(98.5,577) rotate(-90) scale(0.85,1)">Z<tspan font-size="66" dy="25" dx="5" textLength="54" lengthAdjust="spacingAndGlyphs" stroke-width="1.4">th</tspan><tspan dy="-25" dx="6"> [K/W]</tspan></text></g>
</svg></body></html>
